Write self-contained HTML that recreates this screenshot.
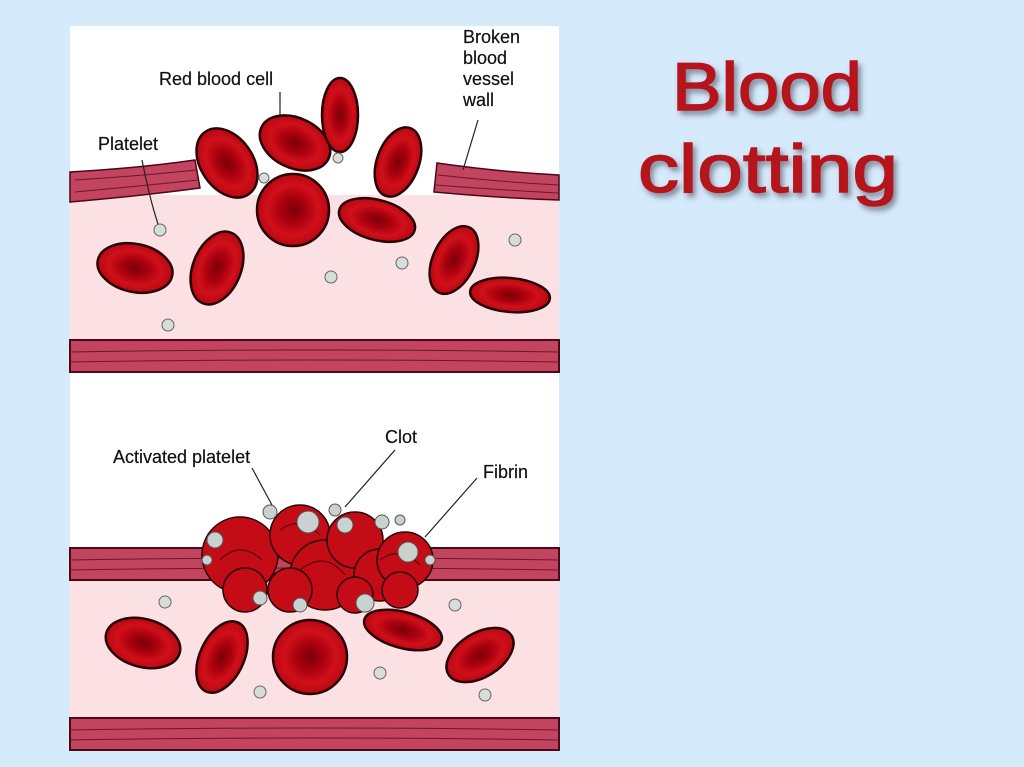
<!DOCTYPE html>
<html><head><meta charset="utf-8"><style>
html,body{margin:0;padding:0;background:#d5eafb;}
svg{display:block}
</style></head><body>
<svg width="1024" height="767" viewBox="0 0 1024 767" xmlns="http://www.w3.org/2000/svg">
<defs>
<radialGradient id="rbc" cx="50%" cy="50%" r="50%">
<stop offset="0" stop-color="#7a0006"/><stop offset="0.35" stop-color="#a8000e"/><stop offset="0.7" stop-color="#d0101a"/><stop offset="1" stop-color="#b80812"/>
</radialGradient>
<filter id="sh" x="-10%" y="-10%" width="130%" height="130%"><feDropShadow dx="3" dy="4" stdDeviation="3" flood-color="#445" flood-opacity="0.6"/></filter>
</defs>
<rect width="1024" height="767" fill="#d5eafb"/>
<rect x="70" y="26" width="489" height="725" fill="#fff"/>
<!-- top panel -->
<rect x="70" y="195" width="489" height="150" fill="#fbe1e3"/>
<path d="M70 172 Q140 168 195 160 L200 188 Q140 196 70 202 Z" fill="#c2445f" stroke="#4a0818" stroke-width="1.5"/>
<path d="M75 180 Q140 176 196 170 M75 192 Q140 186 198 180" stroke="#6a1828" fill="none"/>
<path d="M437 163 Q500 172 559 175 L559 200 Q500 198 434 192 Z" fill="#c2445f" stroke="#4a0818" stroke-width="1.5"/>
<path d="M438 175 Q500 182 559 185 M436 185 Q500 190 559 193" stroke="#6a1828" fill="none"/>
<rect x="70" y="340" width="489" height="32" fill="#c2445f" stroke="#4a0818" stroke-width="2"/>
<path d="M70 352 Q300 348 559 352 M70 362 Q300 358 559 362" stroke="#6a1828" fill="none"/>
<!-- bottom panel -->
<rect x="70" y="578" width="489" height="142" fill="#fbe1e3"/>
<rect x="70" y="548" width="489" height="32" fill="#c2445f" stroke="#4a0818" stroke-width="2"/>
<path d="M70 560 Q300 556 559 560 M70 570 Q300 566 559 570" stroke="#6a1828" fill="none"/>
<rect x="70" y="718" width="489" height="32" fill="#c2445f" stroke="#4a0818" stroke-width="2"/>
<path d="M70 730 Q300 726 559 730 M70 740 Q300 736 559 740" stroke="#6a1828" fill="none"/>
<g stroke="#2a0004" stroke-width="2.5" fill="url(#rbc)">
<ellipse cx="227" cy="163" rx="26" ry="38" transform="rotate(-35 227 163)"/>
<ellipse cx="295" cy="143" rx="37" ry="25" transform="rotate(25 295 143)"/>
<ellipse cx="340" cy="115" rx="18" ry="37"/>
<circle cx="293" cy="210" r="36"/>
<ellipse cx="398" cy="162" rx="21" ry="36" transform="rotate(20 398 162)"/>
<ellipse cx="377" cy="220" rx="39" ry="20" transform="rotate(15 377 220)"/>
<ellipse cx="135" cy="268" rx="38" ry="24" transform="rotate(12 135 268)"/>
<ellipse cx="217" cy="268" rx="24" ry="38" transform="rotate(22 217 268)"/>
<ellipse cx="454" cy="260" rx="21" ry="36" transform="rotate(25 454 260)"/>
<ellipse cx="510" cy="295" rx="40" ry="17" transform="rotate(5 510 295)"/>
<ellipse cx="143" cy="643" rx="38" ry="24" transform="rotate(15 143 643)"/>
<ellipse cx="222" cy="657" rx="22" ry="38" transform="rotate(25 222 657)"/>
<circle cx="310" cy="657" r="37"/>
<ellipse cx="403" cy="630" rx="40" ry="18" transform="rotate(15 403 630)"/>
<ellipse cx="480" cy="655" rx="22" ry="37" transform="rotate(58 480 655)"/>
</g>
<!-- clot -->
<g stroke="#2a0004" stroke-width="1.5" fill="#c40c16">
<circle cx="240" cy="555" r="38"/><circle cx="245" cy="590" r="22"/>
<circle cx="300" cy="535" r="30"/><circle cx="325" cy="575" r="35"/>
<circle cx="290" cy="590" r="22"/><circle cx="355" cy="540" r="28"/>
<circle cx="380" cy="575" r="26"/><circle cx="405" cy="560" r="28"/>
<circle cx="400" cy="590" r="18"/><circle cx="355" cy="595" r="18"/>
</g>
<g stroke="#5a0008" stroke-width="1.2" fill="none">
<path d="M220 560 Q240 540 262 560 M300 570 Q325 550 345 575 M380 560 Q400 545 420 565 M280 530 Q300 515 320 535"/>
</g>
<g fill="#c9d2cf" stroke="#555" stroke-width="1">
<circle cx="308" cy="522" r="11"/><circle cx="345" cy="525" r="8"/><circle cx="382" cy="522" r="7"/>
<circle cx="408" cy="552" r="10"/><circle cx="215" cy="540" r="8"/><circle cx="207" cy="560" r="5"/>
<circle cx="270" cy="512" r="7"/><circle cx="335" cy="510" r="6"/><circle cx="260" cy="598" r="7"/>
<circle cx="300" cy="605" r="7"/><circle cx="365" cy="603" r="9"/><circle cx="430" cy="560" r="5"/>
<circle cx="400" cy="520" r="5"/>
</g>
<!-- platelets -->
<g fill="#d8dcda" stroke="#666" stroke-width="1">
<circle cx="160" cy="230" r="6"/><circle cx="168" cy="325" r="6"/><circle cx="331" cy="277" r="6"/>
<circle cx="402" cy="263" r="6"/><circle cx="515" cy="240" r="6"/><circle cx="338" cy="158" r="5"/>
<circle cx="264" cy="178" r="5"/>
<circle cx="165" cy="602" r="6"/><circle cx="260" cy="692" r="6"/><circle cx="380" cy="673" r="6"/>
<circle cx="455" cy="605" r="6"/><circle cx="485" cy="695" r="6"/>
</g>
<!-- leader lines -->
<g stroke="#222" stroke-width="1.2" fill="none">
<path d="M142 160 Q150 200 158 224"/>
<path d="M280 92 L280 118"/>
<path d="M478 120 L463 170"/>
<path d="M252 468 L272 505"/>
<path d="M395 450 L345 507"/>
<path d="M477 478 L425 537"/>
</g>
<g font-family="Liberation Sans, sans-serif" font-size="18" fill="#111" stroke="#111" stroke-width="0.2">
<text x="159" y="85">Red blood cell</text>
<text x="98" y="150">Platelet</text>
<text x="463" y="43">Broken</text><text x="463" y="64">blood</text>
<text x="463" y="85">vessel</text><text x="463" y="106">wall</text>
<text x="113" y="463">Activated platelet</text>
<text x="385" y="443">Clot</text>
<text x="483" y="478">Fibrin</text>
</g>
<g font-family="Liberation Sans, sans-serif" font-size="68" fill="#b5121b" stroke="#b5121b" stroke-width="1.5" filter="url(#sh)">
<text x="672" y="110" textLength="190" lengthAdjust="spacingAndGlyphs">Blood</text>
<text x="638" y="192" textLength="260" lengthAdjust="spacingAndGlyphs">clotting</text>
</g>
</svg>
</body></html>
